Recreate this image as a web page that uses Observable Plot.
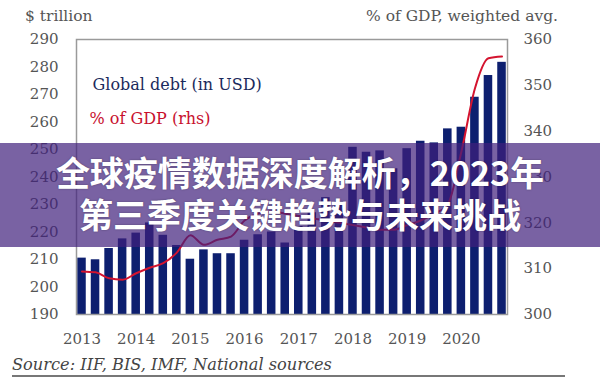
<!DOCTYPE html>
<html>
<head>
<meta charset="utf-8">
<script src="https://cdn.jsdelivr.net/npm/d3@7"></script>
<script src="https://cdn.jsdelivr.net/npm/@observablehq/plot@0.6"></script>
<style>
  html, body { margin: 0; padding: 0; background: #fff; }
  #wrap { position: relative; width: 600px; height: 390px; overflow: hidden; font-family: "DejaVu Serif", serif; background: #fff; }
  #chart { position: absolute; left: 0; top: 0; }
  .lab { position: absolute; color: #555; font-size: 15.5px; line-height: 1; white-space: nowrap; }
  #ylabL { left: 25px; top: 9px; }
  #ylabR { right: 42px; top: 9px; }
  #source { position: absolute; left: 12px; top: 357px; font-size: 16.2px; font-style: italic; color: #444; line-height: 1; white-space: nowrap; }
  #rule { position: absolute; left: 12px; top: 375px; width: 553px; height: 2px; background: #777; }
  #banner { position: absolute; left: 0; top: 143px; width: 600px; height: 104px; background: rgba(64, 32, 124, 0.7);
            box-sizing: border-box; padding-top: 8px; text-align: center; color: #fff;
            font-family: "Noto Sans CJK SC", sans-serif; font-weight: 700; font-size: 34px; line-height: 42px;
            text-shadow: 0 0 2px rgba(0,0,0,0.35); }
</style>
</head>
<body>
<div id="wrap">
  <div id="chart"></div>
  <div class="lab" id="ylabL">$ trillion</div>
  <div class="lab" id="ylabR">% of GDP, weighted avg.</div>
  <div id="source">Source: IIF, BIS, IMF, National sources</div>
  <div id="rule"></div>
  <div id="banner">全球疫情数据深度解析，2023年<br>第三季度关键趋势与未来挑战</div>
</div>
<script>
const quarters = [
  "2013Q1","2013Q2","2013Q3","2013Q4",
  "2014Q1","2014Q2","2014Q3","2014Q4",
  "2015Q1","2015Q2","2015Q3","2015Q4",
  "2016Q1","2016Q2","2016Q3","2016Q4",
  "2017Q1","2017Q2","2017Q3","2017Q4",
  "2018Q1","2018Q2","2018Q3","2018Q4",
  "2019Q1","2019Q2","2019Q3","2019Q4",
  "2020Q1","2020Q2","2020Q3","2020Q4"
];
// Global debt, $ trillion (left axis)
const debt = [
  210.5, 209.9, 214.0, 217.5,
  219.6, 223.3, 218.8, 215.1,
  210.1, 213.5, 212.1, 212.1,
  217.0, 219.0, 220.0, 216.0,
  222.0, 227.0, 232.5, 231.0,
  250.8, 249.0, 249.5, 243.0,
  250.3, 253.0, 252.4, 257.5,
  258.1, 269.0, 276.9, 281.7
];
// % of GDP, weighted avg. (right axis)
const gdpPct = [
  309.4, 309.2, 307.9, 307.6,
  309.0, 310.2, 311.2, 313.5,
  317.3, 315.2, 316.3, 317.0,
  320.5, 322.0, 322.5, 322.0,
  321.5, 321.0, 320.5, 320.0,
  319.5, 319.0, 318.5, 318.5,
  319.5, 320.5, 322.0, 324.0,
  335.5, 349.3, 355.9, 356.3
];
const yearTicks = ["2013Q1","2014Q1","2015Q1","2016Q1","2017Q1","2018Q1","2019Q1","2020Q1"];
const leftTicks = [190, 200, 210, 220, 230, 240, 250, 260, 270, 280, 290];
const rightTicks = [300, 310, 320, 330, 340, 350, 360];
const legendDebt = "Global debt (in USD)";
const legendGdp = "% of GDP (rhs)";

// map right-axis values (300–360) onto the left scale (190–290)
const toLeft = v => 190 + (v - 300) * 100 / 60;
const fromLeft = v => 300 + (v - 190) * 60 / 100;

const data = quarters.map((q, i) => ({q, debt: debt[i], gdp: gdpPct[i]}));

const chart = Plot.plot({
  width: 600,
  height: 352,
  marginTop: 39,
  marginBottom: 38,
  marginLeft: 76,
  marginRight: 93,
  style: {fontFamily: "DejaVu Serif", fontSize: "15px", color: "#555", background: "transparent", overflow: "visible"},
  x: {type: "band", domain: quarters, paddingInner: 0.37, paddingOuter: 0.09, round: false, axis: null, label: null},
  y: {domain: [190, 290], axis: null, label: null},
  marks: [
    Plot.barY(data, {x: "q", y1: 190, y2: "debt", fill: "#0d1f6f"}),
    Plot.line(data, {x: "q", y: d => toLeft(d.gdp), stroke: "#d4142f", strokeWidth: 2, curve: "monotone-x"}),
    Plot.frame({stroke: "#9a9a9a", strokeWidth: 1.5}),
    Plot.axisX({ticks: yearTicks, tickFormat: d => d.slice(0, 4), tickSize: 0, tickPadding: 19, fontSize: 15, label: null}),
    Plot.axisY({anchor: "left", ticks: leftTicks, tickSize: 0, tickPadding: 18, fontSize: 15, label: null}),
    Plot.axisY({anchor: "right", ticks: rightTicks.map(toLeft), tickFormat: v => String(Math.round(fromLeft(v))), tickSize: 0, tickPadding: 16, fontSize: 15, label: null}),
    Plot.text([legendDebt], {text: d => d, frameAnchor: "top-left", dx: 16, dy: 45, textAnchor: "start", lineAnchor: "middle", fill: "#1b2a5c", fontSize: 16}),
    Plot.text([legendGdp], {text: d => d, frameAnchor: "top-left", dx: 13, dy: 79, textAnchor: "start", lineAnchor: "middle", fill: "#c8102e", fontSize: 16})
  ]
});
document.getElementById("chart").appendChild(chart);
</script>
</body>
</html>
